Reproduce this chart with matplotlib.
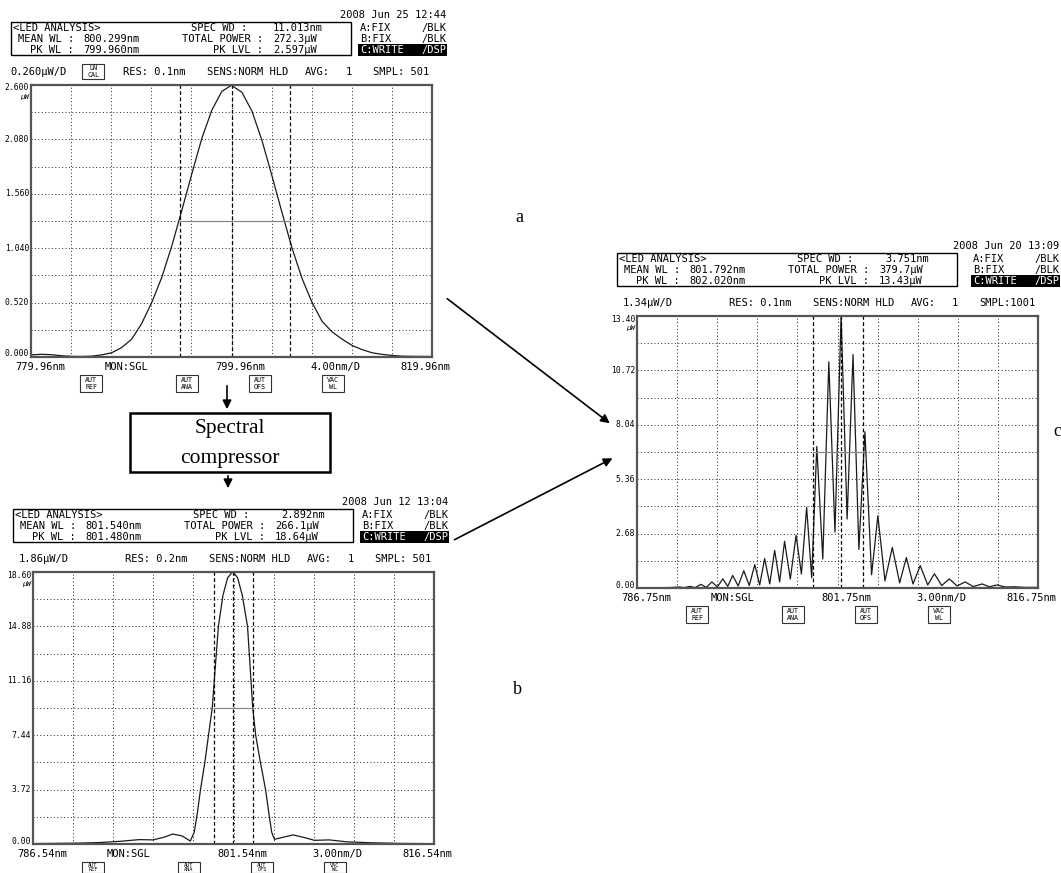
import numpy as np
import matplotlib
matplotlib.use('Agg')
import matplotlib.pyplot as plt
from matplotlib.patches import Rectangle, FancyArrowPatch

W, H = 1061, 873
MONO = 'DejaVu Sans Mono'
SERIF = 'Liberation Serif'

# --- screen a: LED spectrum before the compressor ---
wl_a = [779.96, 781.0, 782.0, 783.0, 784.0, 785.0, 786.0, 787.0, 788.0, 789.0,
        790.0, 791.0, 792.0, 793.0, 794.0, 795.0, 796.0, 797.0, 798.0, 799.0,
        799.96, 801.0, 802.0, 803.0, 804.0, 805.0, 806.0, 807.0, 808.0, 809.0,
        810.0, 811.0, 812.0, 813.0, 814.0, 815.0, 816.0, 817.0, 818.0, 819.96]
p_a = [0.020, 0.026, 0.022, 0.012, 0.006, 0.005, 0.008, 0.020, 0.040, 0.090,
       0.170, 0.320, 0.520, 0.760, 1.060, 1.400, 1.750, 2.090, 2.360, 2.540,
       2.597, 2.530, 2.350, 2.070, 1.730, 1.380, 1.040, 0.750, 0.520, 0.340,
       0.240, 0.170, 0.110, 0.070, 0.040, 0.025, 0.015, 0.008, 0.006, 0.005]

# --- screen b: after the spectral compressor ---
wl_b = [786.54, 788.0, 790.0, 791.5, 793.0, 794.5, 795.5, 796.3, 797.0, 797.7,
        798.31, 798.6, 798.85, 799.07, 799.4, 799.67, 799.95, 800.1, 800.41, 800.75,
        801.1, 801.48, 801.85, 802.2, 802.59, 802.85, 802.98, 803.2, 803.55, 803.94,
        804.2, 804.4, 804.6, 805.2, 806.0, 806.8, 807.6, 808.7, 810.0, 812.0,
        814.0, 816.54]
p_b = [0.03, 0.04, 0.06, 0.10, 0.18, 0.30, 0.28, 0.45, 0.68, 0.55,
       0.20, 0.80, 2.20, 3.72, 5.60, 7.44, 9.30, 11.16, 14.88, 17.00,
       18.20, 18.64, 18.20, 17.00, 14.88, 11.16, 9.30, 7.44, 5.60, 3.72,
       2.00, 0.80, 0.32, 0.45, 0.62, 0.45, 0.25, 0.28, 0.15, 0.08,
       0.04, 0.02]

# --- screen c: compressed spectrum, fringes ---
wl_c = [786.75, 788.0, 789.2, 789.9, 790.3, 790.71, 791.1, 791.53, 791.94, 792.35,
        792.76, 793.17, 793.54, 793.91, 794.32, 794.74, 795.15, 795.56, 795.93, 796.30,
        796.68, 797.05, 797.42, 797.79, 798.22, 798.65, 799.05, 799.44, 799.82, 800.20,
        800.65, 801.10, 801.56, 802.02, 802.47, 802.91, 803.35, 803.80, 804.30, 804.77,
        805.30, 805.85, 806.40, 806.90, 807.40, 807.94, 808.50, 809.00, 809.55, 810.11,
        810.70, 811.30, 811.90, 812.57, 813.10, 813.69, 814.30, 815.00, 815.80, 816.75]
p_c = [0.00, 0.01, 0.02, 0.05, 0.02, 0.08, 0.02, 0.18, 0.03, 0.30,
       0.05, 0.45, 0.08, 0.62, 0.10, 0.85, 0.12, 1.15, 0.15, 1.45,
       0.20, 1.85, 0.30, 2.30, 0.44, 2.60, 0.69, 3.97, 0.50, 6.97,
       1.43, 11.14, 2.75, 13.43, 3.40, 11.50, 1.90, 7.70, 0.65, 3.56,
       0.35, 2.00, 0.25, 1.50, 0.20, 1.10, 0.15, 0.70, 0.12, 0.45,
       0.10, 0.30, 0.07, 0.20, 0.06, 0.15, 0.05, 0.06, 0.03, 0.03]

# analyser readouts
dates = ['2008 Jun 25 12:44', '2008 Jun 12 13:04', '2008 Jun 20 13:09']
spec_wd = [11.013, 2.892, 3.751]
mean_wl = [800.299, 801.540, 801.792]
pk_wl = [799.960, 801.480, 802.020]
pk_lvl = ['2.597', '18.64', '13.43']
total_pw = ['272.3µW', '266.1µW', '379.7µW']
per_div = ['0.260µW/D', '1.86µW/D', '1.34µW/D']
res = ['0.1nm', '0.2nm', '0.1nm']
smpl = ['SMPL: 501', 'SMPL: 501', 'SMPL:1001']
xlims = [(779.96, 819.96), (786.54, 816.54), (786.75, 816.75)]
ytops = [2.6, 18.6, 13.4]
ylabels = [['2.600', '2.080', '1.560', '1.040', '0.520', '0.000'],
           ['18.60', '14.88', '11.16', '7.44', '3.72', '0.00'],
           ['13.40', '10.72', '8.04', '5.36', '2.68', '0.00']]
xlabels = [['779.96nm', '799.96nm', '4.00nm/D', '819.96nm'],
           ['786.54nm', '801.54nm', '3.00nm/D', '816.54nm'],
           ['786.75nm', '801.75nm', '3.00nm/D', '816.75nm']]
buttons = [('AUT', 'REF'), ('AUT', 'ANA'), ('AUT', 'OFS'), ('VAC', 'WL')]

fig = plt.figure(figsize=(W / 100, H / 100), dpi=100)
fig.patch.set_facecolor('white')


def txt(x, y, s, size=7.5, ha='left', va='center', family=MONO, **kw):
    fig.text(x / W, 1 - y / H, s, fontsize=size, ha=ha, va=va, family=family, **kw)


def rect(x, y, w, h, fill=False, lw=1.0, ec='black', fc='black'):
    fig.patches.append(Rectangle((x / W, 1 - (y + h) / H), w / W, h / H,
                                 transform=fig.transFigure, fill=fill, lw=lw,
                                 ec=ec, fc=fc))


def arrow(x1, y1, x2, y2):
    fig.patches.append(FancyArrowPatch((x1 / W, 1 - y1 / H), (x2 / W, 1 - y2 / H),
                                       transform=fig.transFigure, arrowstyle='-|>',
                                       mutation_scale=13, lw=1.2, color='black'))


def button(x, y, top, bottom, w=22, h=17, size=4.8):
    rect(x, y, w, h, lw=0.8, ec='#333')
    txt(x + w / 2, y + h * 0.3, top, size=size, ha='center')
    txt(x + w / 2, y + h * 0.72, bottom, size=size, ha='center')


def screen(i, x0, y0, wl, pw, uncal=False, rcol=0, btn_h=17):
    w, h = 401, 272
    ax = fig.add_axes([x0 / W, 1 - (y0 + h) / H, w / W, h / H])
    x_lo, x_hi = xlims[i]
    ytop = ytops[i]
    ax.plot(wl, pw, color='#1a1a1a', lw=0.9)
    ax.set_xlim(x_lo, x_hi)
    ax.set_ylim(0, ytop)
    ax.set_xticks(np.linspace(x_lo, x_hi, 11))
    ax.set_yticks(np.linspace(0, ytop, 11))
    ax.tick_params(length=0, labelbottom=False, labelleft=False)
    ax.grid(True, color='#222', lw=0.7, ls=(0, (1, 2.5)))
    for s in ax.spines.values():
        s.set_color('#555')
        s.set_linewidth(1.6)

    # spectral width markers, peak marker and half-level line
    lo = mean_wl[i] - spec_wd[i] / 2
    hi = mean_wl[i] + spec_wd[i] / 2
    for m in (lo, hi, pk_wl[i]):
        ax.axvline(m, color='black', lw=0.9, ls=(0, (3, 2)))
    half = float(pk_lvl[i]) / 2
    ax.plot([lo, hi], [half, half], color='#888', lw=0.9)

    # y scale labels
    for k, lab in enumerate(ylabels[i]):
        y = y0 + k * h / 5
        if k == 0:
            y += 3
        elif k == 5:
            y -= 3
        txt(x0 - 2, y, lab, size=5.8, ha='right')
    txt(x0 - 2, y0 + 12, 'µW', size=5.3, ha='right', style='italic')

    # header
    txt(x0 + 415 + rcol, y0 - 70, dates[i], ha='right')
    rect(x0 - 20, y0 - 63, 340, 33, lw=1.0)
    r1, r2, r3 = y0 - 57, y0 - 46, y0 - 35
    txt(x0 - 18, r1, '<LED ANALYSIS>')
    txt(x0 + 216, r1, 'SPEC WD :', ha='right')
    txt(x0 + 292, r1, f'{spec_wd[i]:.3f}nm', ha='right')
    txt(x0 + 43, r2, 'MEAN WL :', ha='right')
    txt(x0 + 52, r2, f'{mean_wl[i]:.3f}nm')
    txt(x0 + 232, r2, 'TOTAL POWER :', ha='right')
    txt(x0 + 242, r2, total_pw[i])
    txt(x0 + 43, r3, 'PK WL :', ha='right')
    txt(x0 + 52, r3, f'{pk_wl[i]:.3f}nm')
    txt(x0 + 232, r3, 'PK LVL :', ha='right')
    txt(x0 + 242, r3, pk_lvl[i] + 'µW')

    xr = x0 + rcol
    txt(xr + 329, r1, 'A:FIX')
    txt(xr + 415, r1, '/BLK', ha='right')
    txt(xr + 329, r2, 'B:FIX')
    txt(xr + 415, r2, '/BLK', ha='right')
    rect(xr + 327, r3 - 6, 89, 12, fill=True, lw=0)
    txt(xr + 329, r3, 'C:WRITE', color='white')
    txt(xr + 415, r3, '/DSP', ha='right', color='white')

    # settings line
    ri = y0 - 13
    txt(x0 + 36, ri, per_div[i], ha='right')
    if uncal:
        button(x0 + 51, y0 - 21, 'UN', 'CAL', h=15)
    txt(x0 + 92, ri, 'RES: ' + res[i])
    txt(x0 + 176, ri, 'SENS:NORM HLD')
    txt(x0 + 274, ri, 'AVG:')
    txt(x0 + 318, ri, '1', ha='center')
    txt(x0 + 342, ri, smpl[i])

    # wavelength scale and soft keys
    yb = y0 + h + 10
    txt(x0 - 16, yb, xlabels[i][0])
    txt(x0 + 74, yb, 'MON:SGL')
    txt(x0 + 184, yb, xlabels[i][1])
    txt(x0 + 279, yb, xlabels[i][2])
    txt(x0 + 369, yb, xlabels[i][3])
    bsize = 4.8 if btn_h >= 15 else 3.8
    for bx, (t, b) in zip((49, 145, 218, 291), buttons):
        button(x0 + bx, y0 + h + 18, t, b, h=btn_h, size=bsize)


screen(0, 31, 85, wl_a, p_a, uncal=True)
screen(1, 33, 572, wl_b, p_b, btn_h=11)
screen(2, 637, 316, wl_c, p_c, rcol=7)

# compressor block between a and b
arrow(227, 383, 227, 412)
rect(130, 413, 200, 59, lw=1.8)
txt(230, 429, 'Spectral', size=15.5, ha='center', family=SERIF)
txt(230, 458, 'compressor', size=15.5, ha='center', family=SERIF)
arrow(228, 473, 228, 491)

# both spectra feed into c
arrow(445, 297, 612, 425)
arrow(452, 541, 615, 457)

txt(519, 218, 'a', size=13, ha='center', family=SERIF)
txt(517, 690, 'b', size=13, ha='center', family=SERIF)
txt(1057, 432, 'c', size=13, ha='center', family=SERIF)

fig.savefig('out.png', dpi=100, facecolor='white')
